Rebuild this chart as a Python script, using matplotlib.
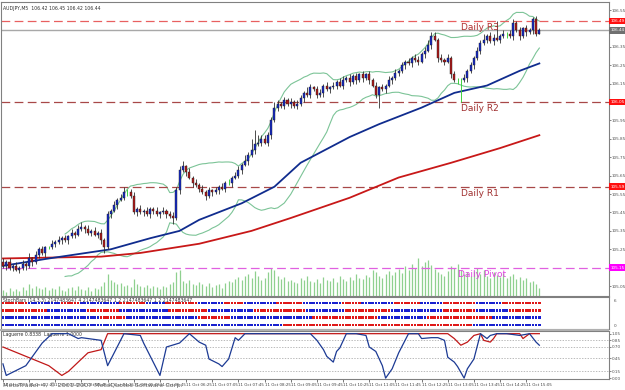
import numpy as np
import pandas as pd
import matplotlib
matplotlib.use("Agg")
import matplotlib.pyplot as plt
import matplotlib.transforms as mtransforms

# AUDJPY M5 closes (bar 0 = 11 Oct 01:45)
first_open = 105.18
close = [105.16, 105.18, 105.15, 105.16, 105.14, 105.15, 105.17, 105.16, 105.20, 105.18,
         105.22, 105.25, 105.23, 105.26, 105.26, 105.28, 105.29, 105.30, 105.31, 105.30,
         105.32, 105.34, 105.33, 105.36, 105.37, 105.36, 105.34, 105.35, 105.33, 105.34,
         105.30, 105.26, 105.44, 105.46, 105.49, 105.52, 105.53, 105.56, 105.56, 105.54,
         105.45, 105.47, 105.45, 105.46, 105.44, 105.47, 105.46, 105.44, 105.45, 105.46,
         105.44, 105.43, 105.42, 105.57, 105.68, 105.70, 105.67, 105.64, 105.61, 105.60,
         105.58, 105.56, 105.54, 105.57, 105.56, 105.57, 105.59, 105.58, 105.61, 105.61,
         105.64, 105.65, 105.68, 105.71, 105.73, 105.76, 105.79, 105.82, 105.83, 105.85,
         105.83, 105.87, 105.95, 106.02, 106.04, 106.03, 106.06, 106.04, 106.05, 106.03,
         106.04, 106.07, 106.10, 106.09, 106.13, 106.12, 106.09, 106.10, 106.14, 106.12,
         106.13, 106.14, 106.16, 106.14, 106.17, 106.18, 106.16, 106.19, 106.17, 106.20,
         106.18, 106.20, 106.17, 106.14, 106.09, 106.13, 106.12, 106.14, 106.17, 106.18,
         106.21, 106.22, 106.25, 106.27, 106.26, 106.29, 106.28, 106.27, 106.31, 106.33,
         106.36, 106.41, 106.39, 106.29, 106.28, 106.27, 106.29, 106.20, 106.17, 106.17,
         106.17, 106.18, 106.22, 106.25, 106.29, 106.33, 106.37, 106.39, 106.41, 106.38,
         106.40, 106.39, 106.41, 106.42, 106.42, 106.41, 106.48, 106.44, 106.41, 106.45,
         106.43, 106.44, 106.50, 106.42, 106.44]
# wick lengths beyond the body, in pips
up_wick = [2, 1, 2, 1, 2, 1, 2, 1, 3, 1, 2, 1, 2, 1, 1, 2, 1, 2, 1, 2,
           1, 2, 1, 2, 3, 1, 2, 1, 2, 1, 2, 1, 2, 1, 2, 1, 2, 3, 2, 2,
           2, 1, 2, 1, 2, 1, 1, 2, 1, 2, 1, 2, 2, 2, 2, 3, 1, 2, 1, 2,
           1, 2, 1, 2, 1, 2, 1, 2, 1, 2, 1, 2, 2, 1, 3, 2, 6, 8, 4, 2,
           2, 2, 2, 3, 2, 1, 2, 1, 2, 1, 2, 2, 1, 3, 2, 1, 2, 2, 1, 2,
           1, 2, 1, 2, 2, 1, 2, 1, 2, 1, 2, 1, 2, 1, 2, 1, 2, 1, 2, 1,
           2, 1, 2, 1, 2, 1, 2, 2, 1, 2, 3, 2, 2, 1, 2, 1, 2, 1, 2, 1,
           1, 2, 1, 2, 1, 2, 2, 3, 1, 2, 2, 9, 1, 2, 1, 2, 2, 1, 2, 1,
           2, 1, 1, 2, 1]
dn_wick = [1, 2, 1, 2, 1, 2, 1, 2, 1, 2, 1, 2, 1, 2, 1, 1, 2, 1, 2, 1,
           2, 1, 2, 1, 1, 2, 1, 2, 1, 2, 2, 3, 1, 2, 1, 2, 1, 1, 2, 1,
           1, 2, 1, 2, 1, 2, 2, 1, 2, 1, 2, 1, 3, 1, 2, 1, 2, 1, 2, 1,
           2, 1, 2, 1, 2, 1, 2, 1, 2, 1, 2, 1, 1, 2, 1, 2, 1, 2, 1, 2,
           1, 2, 2, 1, 2, 1, 2, 1, 2, 1, 2, 1, 2, 1, 2, 1, 2, 1, 2, 1,
           2, 1, 2, 1, 2, 1, 2, 1, 2, 1, 2, 1, 2, 1, 2, 7, 1, 2, 1, 2,
           1, 2, 1, 2, 1, 2, 1, 2, 1, 2, 1, 2, 1, 2, 1, 2, 1, 2, 1, 2,
           12, 1, 2, 1, 2, 1, 2, 1, 2, 1, 2, 1, 2, 1, 2, 1, 2, 1, 2, 1,
           2, 1, 2, 1, 0]
volume = [6, 4, 8, 5, 7, 5, 9, 6, 12, 8, 10, 8, 7, 9, 6, 8, 7, 10, 6, 5,
          8, 9, 6, 10, 7, 6, 9, 5, 8, 7, 10, 14, 22, 16, 14, 12, 13, 10, 11, 9,
          17, 12, 10, 9, 11, 8, 10, 9, 7, 10, 9, 12, 14, 24, 26, 15, 13, 16, 12, 11,
          14, 12, 10, 13, 9, 11, 12, 8, 13, 15, 14, 17, 19, 16, 20, 22, 18, 25, 20, 16,
          18, 24, 28, 26, 20, 17, 19, 15, 16, 14, 13, 18, 16, 20, 15, 14, 17, 13, 19, 16,
          15, 18, 14, 20, 17, 15, 19, 16, 22, 18, 17, 21, 19, 26, 24, 20, 18, 22, 25, 21,
          24, 27, 23, 30, 26, 32, 28, 38, 30, 34, 36, 31, 27, 24, 22, 20, 25, 30, 28, 32,
          26, 22, 24, 20, 25, 28, 22, 26, 20, 18, 24, 21, 19, 23, 18, 20, 22, 17, 19, 16,
          18, 14, 15, 12, 8]

# moving averages, sampled off the chart (bar index, price)
ma_blue_i = [0, 14, 33, 45, 54, 60, 73, 83, 91, 106, 115, 128, 138, 148, 158, 164]
ma_blue_p = [105.16, 105.20, 105.25, 105.31, 105.35, 105.41, 105.50, 105.59, 105.72,
             105.86, 105.93, 106.02, 106.10, 106.14, 106.22, 106.26]
ma_red_i = [0, 30, 42, 60, 76, 88, 106, 121, 137, 152, 164]
ma_red_p = [105.20, 105.21, 105.23, 105.28, 105.35, 105.42, 105.53, 105.64, 105.72,
            105.80, 105.87]

# daily pivot levels
levels = [106.49, 106.05, 105.59, 105.15]
level_names = ["Daily R3", "Daily R2", "Daily R1", "Daily Pivot"]
level_tags = ["106.49", "106.05", "105.59", "105.15"]
bid = 106.44

# stoch bars: runs of (colour, bars) for the four rows, top to bottom
stoch_rows = [
    [("r", 8), ("b", 10), ("r", 6), ("b", 12), ("r", 8), ("b", 6), ("r", 10), ("b", 8),
     ("r", 6), ("b", 10), ("r", 8), ("b", 12), ("r", 6), ("b", 10), ("r", 8), ("b", 7),
     ("r", 10), ("b", 8), ("r", 12)],
    [("r", 14), ("b", 12), ("r", 10), ("b", 15), ("r", 12), ("b", 14), ("r", 16), ("b", 12),
     ("r", 14), ("b", 16), ("r", 10), ("b", 10), ("r", 10)],
    [("b", 30), ("r", 8), ("b", 22), ("r", 10), ("b", 25), ("r", 20), ("b", 15), ("r", 20),
     ("b", 15)],
    [("b", 86), ("r", 58), ("b", 21)],
]

# laguerre lines sampled off the chart (bar index, value)
lag_blue_i = [0, 1, 7, 12, 15, 20, 23, 24, 30, 32, 37, 42, 43, 48, 50, 54, 57, 60, 62, 63,
              66, 67, 69, 71, 72, 74, 94, 96, 98, 99, 101, 102, 103, 105, 108, 111, 112, 114,
              116, 117, 119, 121, 124, 127, 128, 131, 133, 135, 136, 138, 139, 141, 142, 144,
              146, 148, 149, 151, 154, 158, 161, 163, 164]
lag_blue_v = [0.32, 0.06, 0.28, 0.79, 1.0, 1.0, 0.89, 0.91, 0.85, 0.28, 1.0, 0.96, 0.79,
              0.06, 0.70, 0.79, 1.0, 0.81, 0.74, 0.43, 0.32, 0.26, 0.43, 0.91, 0.85, 1.0,
              1.0, 0.85, 0.64, 0.49, 0.36, 0.60, 0.68, 1.0, 1.0, 0.96, 0.70, 0.60, 0.28,
              0.0, 0.21, 0.57, 1.0, 1.0, 0.89, 0.91, 0.91, 0.85, 0.47, 0.36, 0.26, 0.0,
              0.21, 0.43, 1.0, 0.89, 0.96, 1.0, 1.0, 0.96, 1.0, 0.81, 0.74]
lag_red_i = [0, 9, 14, 18, 20, 26, 30, 32, 136, 138, 140, 142, 144, 146, 147, 149, 150,
             151, 158, 159, 161, 164]
lag_red_v = [0.70, 0.43, 0.28, 0.06, 0.15, 0.57, 0.64, 1.0, 1.0, 0.89, 0.74, 0.81, 0.96,
             1.0, 0.85, 0.81, 0.89, 1.0, 1.0, 0.89, 1.0, 1.0]
lag_levels = [0.15, 0.45, 0.70, 0.85]

time_labels = ["11 Oct 2007", "11 Oct 02:25", "11 Oct 03:05", "11 Oct 03:45", "11 Oct 04:25",
               "11 Oct 05:05", "11 Oct 05:45", "11 Oct 06:25", "11 Oct 07:05", "11 Oct 07:45",
               "11 Oct 08:25", "11 Oct 09:05", "11 Oct 09:45", "11 Oct 10:25", "11 Oct 11:05",
               "11 Oct 11:45", "11 Oct 12:25", "11 Oct 13:05", "11 Oct 13:45", "11 Oct 14:25",
               "11 Oct 15:05"]

# ---------------------------------------------------------------
W, H = 625.0, 390.0
def px_box(x0, y0, x1, y1):
    return [x0 / W, 1 - y1 / H, (x1 - x0) / W, (y1 - y0) / H]

close = np.array(close)
n = len(close)
idx = np.arange(n)
opn = np.concatenate([[first_open], close[:-1]])
top = np.maximum(opn, close)
bot = np.minimum(opn, close)
high = top + np.array(up_wick) * 0.01
low = bot - np.array(dn_wick) * 0.01

fig = plt.figure(figsize=(6.25, 3.9), dpi=100)
fig.patch.set_facecolor("white")
ax = fig.add_axes(px_box(1, 2, 609, 296))
ax_st = fig.add_axes(px_box(1, 297, 609, 329))
ax_lg = fig.add_axes(px_box(1, 331, 609, 379))
xlim = (-0.6, 185.3)
FS = 3.0
GREY = "#808080"

for a in (ax, ax_st, ax_lg):
    a.set_xlim(*xlim)
    for s in a.spines.values():
        s.set_color(GREY)
        s.set_linewidth(0.8)
    a.yaxis.tick_right()
    a.tick_params(axis="y", labelsize=FS, colors="#505050", length=1.5, width=0.5, pad=0.5)
    a.tick_params(axis="x", length=0, labelbottom=False)

# separator bar between sub-windows
fig.patches.append(plt.Rectangle((0, 1 - 331 / H), 609 / W, 2 / H, transform=fig.transFigure,
                                 fc="#b0b0b0", ec="none"))

# ---- main window
ax.set_ylim(104.996, 106.594)
ticks = np.round(np.arange(105.05, 106.56, 0.10), 2)
ax.set_yticks(ticks)
# price tags cover the tick labels next to them
covered = [106.45, 106.05, 105.15]
ax.set_yticklabels(["" if np.isclose(v, covered).any() else "%.2f" % v for v in ticks])

trans_vol = mtransforms.blended_transform_factory(ax.transData, ax.transAxes)
vol = np.array(volume)
ax.vlines(idx, 0, vol / 38.0 * 0.13, transform=trans_vol, color="#8fd08f", lw=0.9, zorder=1)

bb_mid = pd.Series(close).rolling(20).mean()
bb_sd = pd.Series(close).rolling(20).std(ddof=0)
for band in (bb_mid + 2 * bb_sd, bb_mid - 2 * bb_sd):
    ax.plot(idx, band, color="#7cc497", lw=0.8, zorder=2)

ax.plot(ma_red_i, ma_red_p, color="#c81818", lw=1.3, zorder=3)
ax.plot(ma_blue_i, ma_blue_p, color="#102c8e", lw=1.3, zorder=3)

ax.axhline(bid, color="#a8a8a8", lw=1.0, zorder=2)
level_cols = ["#e86060", "#a84848", "#a84848", "#e060e0"]
text_cols = ["#b03030", "#a03030", "#a03030", "#e040e0"]
tag_cols = ["#ff1010", "#ff1010", "#ff1010", "#ff00ff"]
text_x = [140, 140, 140, 139]
for lvl, lc, tc, name, tx in zip(levels, level_cols, text_cols, level_names, text_x):
    ax.axhline(lvl, color=lc, lw=0.9, ls=(0, (7, 3.5)), zorder=2)
    ax.text(tx, lvl - 0.012, name, color=tc, fontsize=6.5, va="top", ha="left", zorder=6)

bull = close > opn
bear = close < opn
doji = close == opn
ax.vlines(idx[~doji], low[~doji], high[~doji], color="#303030", lw=0.6, zorder=4)
ax.vlines(idx[doji], low[doji], high[doji], color="#40d040", lw=0.7, zorder=4)
ax.bar(idx[bull], (top - bot)[bull], bottom=bot[bull], width=0.62, color="#1428c8",
       edgecolor="#202020", linewidth=0.3, zorder=5)
ax.bar(idx[bear], (top - bot)[bear], bottom=bot[bear], width=0.62, color="#b01818",
       edgecolor="#202020", linewidth=0.3, zorder=5)

trans_tag = mtransforms.blended_transform_factory(ax.transAxes, ax.transData)
for lvl, tag, col in zip(levels + [bid], level_tags + ["106.44"], tag_cols + ["#707070"]):
    ax.text(1.002, lvl, tag, transform=trans_tag, fontsize=FS, color="white", va="center",
            ha="left", clip_on=False, zorder=10,
            bbox=dict(boxstyle="square,pad=0.3", fc=col, ec="none"))

ax.text(0.004, 0.988, "AUDJPY,M5  106.42 106.45 106.42 106.44", transform=ax.transAxes,
        fontsize=3.3, color="#303030", va="top", ha="left")

# ---- stoch bars
ax_st.set_ylim(0.45, 4.82)
ax_st.set_yticks([])
for r, runs in enumerate(stoch_rows):
    cols = []
    for c, k in runs:
        cols += [("#e01818" if c == "r" else "#1820d0")] * k
    ax_st.scatter(idx, np.full(n, 4 - r), marker="s", s=3.4, c=cols, linewidths=0, zorder=3)
ax_st.text(0.004, 0.98, "StochBars (14,3,3) 2147483647 4 2147483647 1 2 2147483647 1 2 2147483647",
           transform=ax_st.transAxes, fontsize=3.3, color="#303030", va="top", ha="left")
ax_st.text(1.008, 0.88, "6", transform=ax_st.transAxes, fontsize=FS, color="#505050",
           va="center", ha="left")
ax_st.text(1.008, 0.1, "0", transform=ax_st.transAxes, fontsize=FS, color="#505050",
           va="center", ha="left")

# ---- laguerre
ax_lg.set_ylim(-0.02, 1.06)
for lv in lag_levels:
    ax_lg.axhline(lv, color="#a0a0a0", lw=0.5, ls=(0, (2, 2)), zorder=1)
ax_lg.plot(lag_red_i, lag_red_v, color="#c01818", lw=0.9, zorder=3)
ax_lg.plot(lag_blue_i, lag_blue_v, color="#1c3a94", lw=0.9, zorder=4)
ax_lg.set_yticks([0.0] + lag_levels + [1.0])
ax_lg.set_yticklabels(["0.00", "0.15", "0.45", "0.70", "0.85", "1.05"])
ax_lg.text(0.004, 0.97, "Laguerre 0.8338  Laguerre 1.0000", transform=ax_lg.transAxes,
           fontsize=3.3, color="#303030", va="top", ha="left")

ax_lg.set_xticks(np.arange(0, 161, 8))
ax_lg.set_xticklabels(time_labels, ha="left")
ax_lg.tick_params(axis="x", labelbottom=True, labelsize=2.9, colors="#404040", length=2,
                  width=0.5, pad=1)

fig.text(3 / W, 1 - 388 / H, "MetaTrader 4, \u00a9 2001-2007 MetaQuotes Software Corp.",
         fontsize=4.6, color="#606060", ha="left", va="bottom")

fig.savefig("out.png", dpi=100)
